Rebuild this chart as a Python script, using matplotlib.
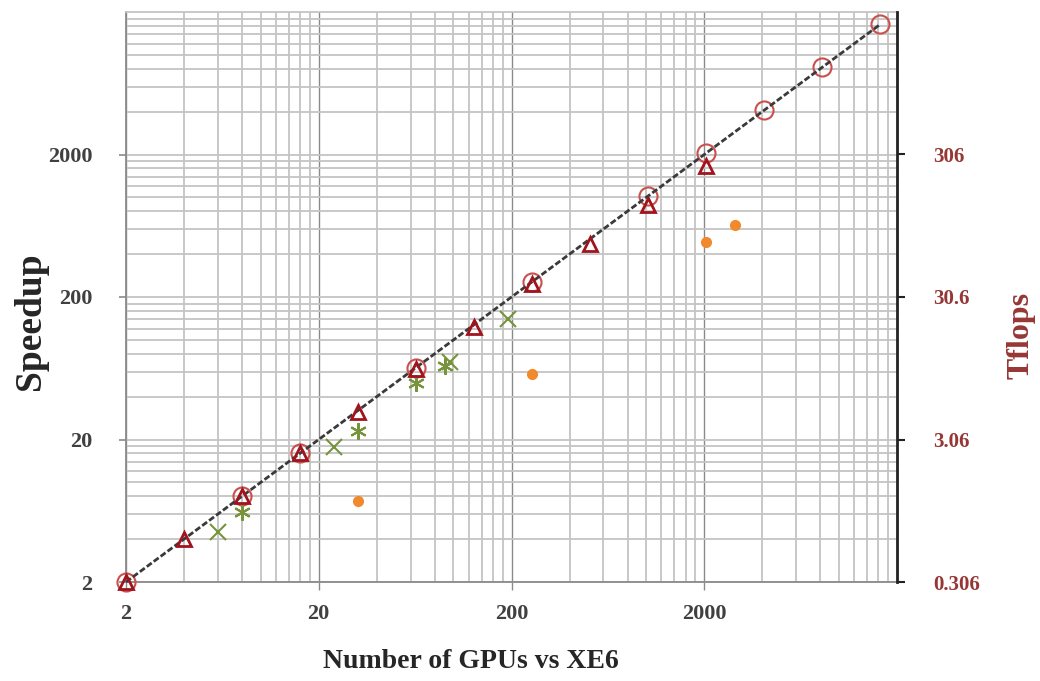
import matplotlib
matplotlib.use("Agg")
import matplotlib.pyplot as plt
from matplotlib.ticker import FixedLocator, NullFormatter

# Number of GPUs vs XE6 and measured speedups
ideal_x = [2, 16384]
ideal_y = [2, 16384]

circle_x = [2, 8, 16, 64, 256, 1024, 2048, 4096, 8192, 16384]
circle_y = [2, 8, 16, 64, 256, 1024, 2048, 4096, 8192, 16384]

tri_x = [2, 4, 8, 16, 32, 64, 128, 256, 512, 1024, 2048]
tri_y = [2, 4, 8, 16, 31, 62, 123, 245, 470, 890, 1650]

cross_x = [6, 24, 96, 192]
cross_y = [4.5, 17.7, 70, 140]

star_x = [8, 32, 64, 90]
star_y = [6.2, 23, 50, 66]

# Sustained performance (Tflops, right axis)
tflops_x = [32, 256, 2048, 2880]
tflops_y = [1.13, 8.8, 74.5, 98]

speedup_ticks = [2, 20, 200, 2000]
tflops_ticks = [0.306, 3.06, 30.6, 306]
tflops_labels = ["0.306", "3.06", "30.6", "306"]
x_ticks = [2, 20, 200, 2000]

W, H = 1040, 681
fig = plt.figure(figsize=(W / 100, H / 100), dpi=100)
ax = fig.add_axes([126 / W, 1 - 582 / H, 771 / W, 570 / H])

font = "Liberation Serif"
grid_c = "#c4c4c4"

ax.set_xscale("log")
ax.set_yscale("log")
ax.set_xlim(2, 20000)
ax.set_ylim(2, 20000)

minor = [k * 2 * 10 ** n for n in range(4) for k in range(2, 10)]
ax.xaxis.set_major_locator(FixedLocator(x_ticks))
ax.yaxis.set_major_locator(FixedLocator(speedup_ticks))
ax.xaxis.set_minor_locator(FixedLocator(minor))
ax.yaxis.set_minor_locator(FixedLocator(minor))
ax.xaxis.set_minor_formatter(NullFormatter())
ax.yaxis.set_minor_formatter(NullFormatter())
ax.set_xticklabels([str(v) for v in x_ticks])
ax.set_yticklabels([str(v) for v in speedup_ticks])

ax.grid(True, which="minor", color=grid_c, lw=1.3)
ax.yaxis.grid(True, which="major", color=grid_c, lw=1.3)
ax.xaxis.grid(True, which="major", color="#8a8a8a", lw=1.0)
ax.set_axisbelow(True)

for side in ("left", "bottom"):
    ax.spines[side].set_color("#8a8a8a")
    ax.spines[side].set_linewidth(1.3)
ax.spines["top"].set_color(grid_c)
ax.spines["top"].set_linewidth(1.3)
ax.spines["right"].set_visible(False)

ax.tick_params(axis="both", which="minor", length=0)
ax.tick_params(axis="y", which="major", length=5, width=1.2, color="#8a8a8a",
               pad=19, labelsize=16, labelcolor="#404040")
ax.tick_params(axis="x", which="major", length=6, width=1.0, color="#8a8a8a",
               pad=10, labelsize=16, labelcolor="#404040")
for lab in ax.get_xticklabels() + ax.get_yticklabels():
    lab.set_fontfamily(font)
    lab.set_fontweight("bold")

ax.plot(ideal_x, ideal_y, color="#3a3a3a", lw=2.0, ls=(0, (2.2, 0.9)),
        zorder=4, clip_on=False)
ax.plot(circle_x, circle_y, ls="none", marker="o", ms=13, mfc="none",
        mec="#c9504d", mew=1.5, zorder=3, clip_on=False)
ax.plot(tri_x, tri_y, ls="none", marker="^", ms=10, mfc="none",
        mec="#a0141e", mew=2.0, zorder=5, clip_on=False)
ax.plot(cross_x, cross_y, ls="none", marker="x", ms=11, mec="#77933c",
        mew=1.5, zorder=3)
ax.plot(star_x, star_y, ls="none", marker=(6, 2, 0), ms=12, mec="#77933c",
        mew=1.5, zorder=3)

ax2 = ax.twinx()
ax2.set_position(ax.get_position())
ax2.set_yscale("log")
ax2.set_ylim(0.306, 3060)
ax2.yaxis.set_major_locator(FixedLocator(tflops_ticks))
ax2.yaxis.set_minor_locator(FixedLocator([]))
ax2.set_yticklabels(tflops_labels)
for side in ("left", "top", "bottom"):
    ax2.spines[side].set_visible(False)
ax2.spines["right"].set_color("#222222")
ax2.spines["right"].set_linewidth(2.0)
ax2.tick_params(axis="y", which="major", length=6, width=1.5, color="#222222",
                pad=20, labelsize=15, labelcolor="#953735")
for lab in ax2.get_yticklabels():
    lab.set_fontfamily(font)
    lab.set_fontweight("bold")
ax2.plot(tflops_x, tflops_y, ls="none", marker="o", ms=7, mfc="#f08a2c",
         mec="#f08a2c", zorder=3)

fig.text(31 / W, 1 - 321 / H, "Speedup", rotation=90, ha="center", va="center",
         fontsize=27, fontweight="bold", family=font, color="#262626")
fig.text(471 / W, 1 - 661 / H, "Number of GPUs vs XE6", ha="center", va="center",
         fontsize=20, fontweight="bold", family=font, color="#262626")
fig.text(1021 / W, 1 - 335 / H, "Tflops", rotation=90, ha="center", va="center",
         fontsize=23, fontweight="bold", family=font, color="#953735")

fig.savefig("out.png", dpi=100)
